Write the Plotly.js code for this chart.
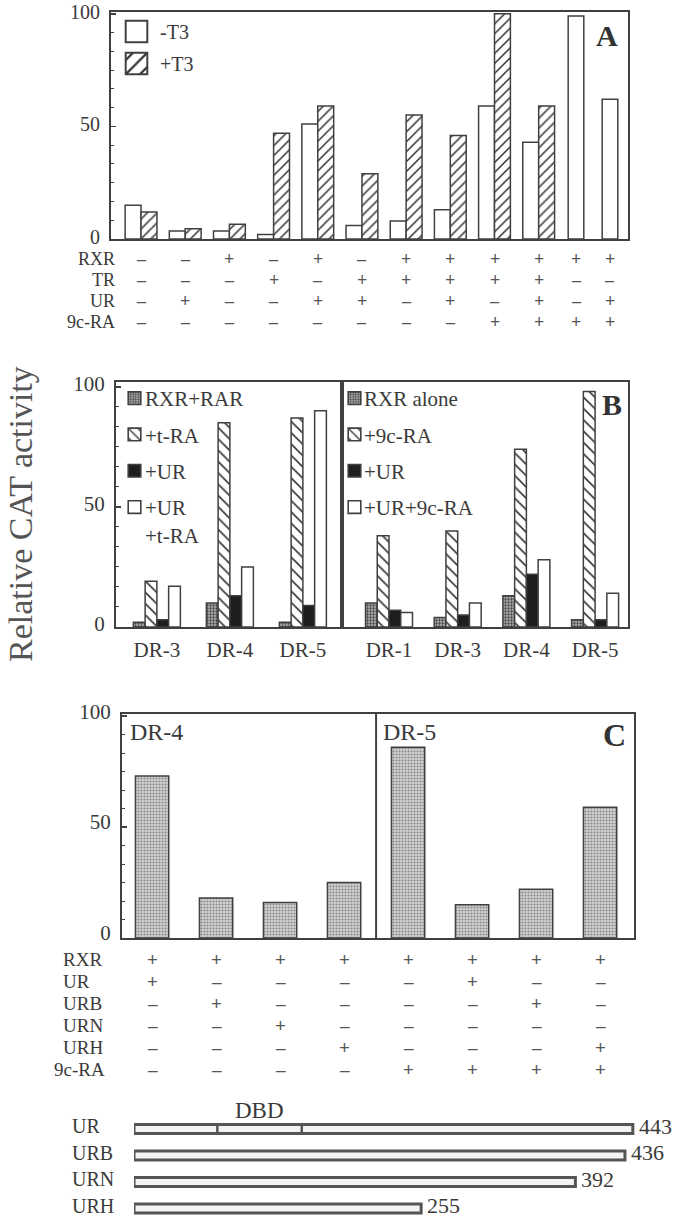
<!DOCTYPE html>
<html><head><meta charset="utf-8">
<script src="https://cdn.plot.ly/plotly-3.0.1.min.js"></script>
<style>html,body{margin:0;padding:0;background:#fff}#chart{width:679px;height:1218px}</style>
</head><body><div id="chart"></div>
<script>
// ---------- Panel A ----------
const lanesA = ['1','2','3','4','5','6','7','8','9','10','11','12'];
const minusT3 = [15, 3.5, 3.5, 2, 51, 6, 8, 13, 59, 43, 99, 62];
const plusT3  = [12, 4.5, 6.5, 47, 59, 29, 55, 46, 100, 59, null, null];
const rowLabelsA = ['RXR','TR','UR','9c-RA'];
const rxrA  = ['-','-','+','-','+','-','+','+','+','+','+','+'];
const trA   = ['-','-','-','+','-','+','+','+','+','+','-','-'];
const urA   = ['-','+','-','-','+','+','-','+','-','+','-','+'];
const ra9cA = ['-','-','-','-','-','-','-','-','+','+','+','+'];
// ---------- Panel B ----------
const drLeft = ['DR-3','DR-4','DR-5'];
const rxrRar = [2, 10, 2];
const plusTRA = [19, 85, 87];
const plusURLeft = [3, 13, 9];
const plusURtRA = [17, 25, 90];
const drRight = ['DR-1','DR-3','DR-4','DR-5'];
const rxrAlone = [10, 4, 13, 3];
const plus9cRA = [38, 40, 74, 98];
const plusURRight = [7, 5, 22, 3];
const plusUR9cRA = [6, 10, 28, 14];
// ---------- Panel C ----------
const lanesC = ['1','2','3','4','5','6','7','8'];
const valuesC = [73, 18, 16, 25, 86, 15, 22, 59];
const elementsC = ['DR-4','DR-5'];
const rowLabelsC = ['RXR','UR','URB','URN','URH','9c-RA'];
const rxrC  = ['+','+','+','+','+','+','+','+'];
const urC   = ['+','-','-','-','-','+','-','-'];
const urbC  = ['-','+','-','-','-','-','+','-'];
const urnC  = ['-','-','+','-','-','-','-','-'];
const urhC  = ['-','-','-','+','-','-','-','+'];
const ra9cC = ['-','-','-','-','+','+','+','+'];
// ---------- Constructs ----------
const constructs = ['UR','URB','URN','URH'];
const lengthsAA = [443, 436, 392, 255];
const dbdBounds = [74, 149];

// ---------- helpers / styles ----------
const W = 679, H = 1218;
const X = p => p / W, Y = p => 1 - p / H;
const INK = '#3a3a3a', LINE = '#404040';
const serif = 'Liberation Serif, Times New Roman, serif';
const outline = {color: LINE, width: 1.5};
const hatchFwd = {shape: '/', fgcolor: '#333', bgcolor: '#fff', size: 7, solidity: 0.22};
const hatchBack = {shape: '\\', fgcolor: '#333', bgcolor: '#fff', size: 8, solidity: 0.2};
const stippleDark = {shape: '.', fgcolor: '#444', bgcolor: '#b0b0b0', size: 3, solidity: 0.45};
const stippleLight = {shape: '.', fgcolor: '#888', bgcolor: '#d3d3d3', size: 3, solidity: 0.4};
const signChar = s => s === '+' ? '<b>+</b>' : '<b>\u2013</b>';

const traces = [];
// Panel A
const split = plusT3.findIndex(v => v == null);
const wA = 0.36;
traces.push({type: 'bar', name: '-T3', x: lanesA.slice(0, split), y: minusT3.slice(0, split),
  xaxis: 'x', yaxis: 'y', width: wA, offset: -wA, marker: {color: '#fff', line: outline},
  legend: 'legend', legendgroup: 'a1'});
traces.push({type: 'bar', name: '+T3', x: lanesA.slice(0, split), y: plusT3.slice(0, split),
  xaxis: 'x', yaxis: 'y', width: wA, offset: 0, marker: {color: '#fff', line: outline, pattern: hatchFwd},
  legend: 'legend', legendgroup: 'a2'});
traces.push({type: 'bar', name: '-T3', x: lanesA.slice(split), y: minusT3.slice(split),
  xaxis: 'x2', yaxis: 'y2', width: 0.46, offset: -0.23, marker: {color: '#fff', line: outline},
  showlegend: false});

// Panel B
const bSeries = (cats, vals, names, w, xa, ya, leg) => {
  const styles = [
    {color: '#b0b0b0', line: outline, pattern: stippleDark},
    {color: '#fff', line: outline, pattern: hatchBack},
    {color: '#1e1e1e', line: outline},
    {color: '#fff', line: outline}
  ];
  vals.forEach((v, k) => traces.push({type: 'bar', name: names[k], x: cats, y: v,
    xaxis: xa, yaxis: ya, width: w, offset: (k - 2) * w, marker: styles[k],
    legend: leg, legendgroup: leg + k}));
};
bSeries(drLeft, [rxrRar, plusTRA, plusURLeft, plusURtRA],
  ['RXR+RAR', '+t-RA', '+UR', '+UR<br>+t-RA'], 0.161, 'x3', 'y3', 'legend2');
bSeries(drRight, [rxrAlone, plus9cRA, plusURRight, plusUR9cRA],
  ['RXR alone', '+9c-RA', '+UR', '+UR+9c-RA'], 0.171, 'x4', 'y4', 'legend3');

// Panel C
traces.push({type: 'bar', x: lanesC, y: valuesC, xaxis: 'x5', yaxis: 'y5', width: 0.52, offset: -0.26,
  marker: {color: '#d3d3d3', line: outline, pattern: stippleLight}, showlegend: false});

// Constructs
traces.push({type: 'bar', orientation: 'h', y: constructs, x: lengthsAA, xaxis: 'x6', yaxis: 'y6',
  width: 0.34, offset: -0.17, marker: {color: '#f3f3f3', line: {color: '#555', width: 3}},
  cliponaxis: false, showlegend: false});

// ---------- axes ----------
const frameAx = {showline: true, linecolor: LINE, linewidth: 2, mirror: true, showgrid: false,
  zeroline: false, ticks: '', showticklabels: false, fixedrange: true};
const valueAx = (dom, top, shift, fs) => Object.assign({}, frameAx, {domain: dom, range: [0, top],
  showticklabels: true, tickvals: [0, 50, 100], ticks: 'inside', ticklen: 5, tickcolor: LINE, tickwidth: 1.5,
  ticklabelstandoff: 5, ticklabelshift: shift, ticklabeloverflow: 'allow',
  tickfont: {family: serif, size: fs, color: INK},
  minor: {dtick: 100 / 12, tick0: 0, ticks: 'inside', ticklen: 3, tickcolor: LINE, tickwidth: 1}});

const layout = {
  width: W, height: H, margin: {l: 0, r: 0, t: 0, b: 0},
  paper_bgcolor: '#fff', plot_bgcolor: 'rgba(0,0,0,0)',
  font: {family: serif, color: INK},
  barmode: 'overlay', showlegend: true,
  xaxis: Object.assign({}, frameAx, {type: 'category', domain: [X(111), X(559)], range: [-0.68, 9.46], anchor: 'y'}),
  yaxis: Object.assign(valueAx([Y(239), Y(11.5)], 101, -2, 20), {mirror: false, anchor: 'x'}),
  xaxis2: Object.assign({}, frameAx, {type: 'category', domain: [X(559), X(628)], range: [-0.5, 1.53], anchor: 'y2'}),
  yaxis2: Object.assign({}, frameAx, {domain: [Y(239), Y(11.5)], range: [0, 101], anchor: 'x2', side: 'right', mirror: false}),
  xaxis3: Object.assign({}, frameAx, {type: 'category', domain: [X(116), X(342)], range: [-0.56, 2.536], anchor: 'y3',
    showticklabels: true, ticklabelstandoff: 3, tickfont: {family: serif, size: 21, color: INK}}),
  yaxis3: Object.assign(valueAx([Y(627), Y(382)], 102, -3, 21), {anchor: 'x3'}),
  xaxis4: Object.assign({}, frameAx, {type: 'category', domain: [X(342), X(628)], range: [-0.684, 3.479], anchor: 'y4',
    showticklabels: true, ticklabelstandoff: 3, tickfont: {family: serif, size: 21, color: INK}}),
  yaxis4: Object.assign({}, frameAx, {domain: [Y(627), Y(382)], range: [0, 102], anchor: 'x4'}),
  xaxis5: Object.assign({}, frameAx, {type: 'category', domain: [X(122), X(634)], range: [-0.47, 7.53], anchor: 'y5'}),
  yaxis5: Object.assign(valueAx([Y(938), Y(714)], 101, -5, 21), {anchor: 'x5'}),
  xaxis6: {domain: [X(134), X(679)], range: [0, 484], visible: false, fixedrange: true, anchor: 'y6'},
  yaxis6: {domain: [Y(1218), Y(1110)], type: 'category', categoryarray: constructs, range: [3.358, -0.717],
    visible: false, fixedrange: true, anchor: 'x6'},
  legend: {x: X(120), y: Y(12), xanchor: 'left', yanchor: 'top', bgcolor: 'rgba(0,0,0,0)',
    font: {family: serif, size: 20, color: INK}, traceorder: 'grouped', tracegroupgap: 3},
  legend2: {x: X(105), y: Y(378), xanchor: 'left', yanchor: 'top', bgcolor: 'rgba(0,0,0,0)', valign: 'top',
    font: {family: serif, size: 21, color: INK}, traceorder: 'grouped', tracegroupgap: 6},
  legend3: {x: X(324), y: Y(378), xanchor: 'left', yanchor: 'top', bgcolor: 'rgba(0,0,0,0)', valign: 'top',
    font: {family: serif, size: 21, color: INK}, traceorder: 'grouped', tracegroupgap: 6},
  shapes: [
    {type: 'line', xref: 'x5', yref: 'y5 domain', x0: 3.5, x1: 3.5, y0: 0, y1: 1, line: {color: LINE, width: 2}}
  ].concat(dbdBounds.map(b => ({type: 'line', xref: 'x6', yref: 'y6', x0: b, x1: b, y0: -0.17, y1: 0.17,
    line: {color: '#555', width: 2.5}}))),
  annotations: []
};

const ann = layout.annotations;
const txt = (o) => ann.push(Object.assign({showarrow: false, xanchor: 'center', yanchor: 'middle',
  font: {family: serif, size: 21, color: INK}}, o));

// Panel letters
txt({text: '<b>A</b>', xref: 'paper', yref: 'paper', x: X(607), y: Y(35), font: {family: serif, size: 30, color: '#333'}});
txt({text: '<b>B</b>', xref: 'paper', yref: 'paper', x: X(612), y: Y(404), font: {family: serif, size: 30, color: '#333'}});
txt({text: '<b>C</b>', xref: 'paper', yref: 'paper', x: X(614), y: Y(735), font: {family: serif, size: 32, color: '#333'}});

// Y title
txt({text: 'Relative CAT activity', xref: 'paper', yref: 'paper', x: X(20), y: Y(514), textangle: -90,
  font: {family: serif, size: 34, color: '#555'}});

// Table A
const tableA = [rxrA, trA, urA, ra9cA];
const rowYA = [259, 280, 301, 322];
tableA.forEach((row, r) => {
  txt({text: rowLabelsA[r], xref: 'paper', yref: 'paper', x: X(117), y: Y(rowYA[r]), xanchor: 'right',
    font: {family: serif, size: 18, color: INK}});
  row.forEach((s, i) => txt({text: signChar(s), xref: i < split ? 'x' : 'x2', x: i < split ? i : i - split,
    yref: 'paper', y: Y(rowYA[r]), font: {family: serif, size: 18, color: '#555'}}));
});

// Table C
const tableC = [rxrC, urC, urbC, urnC, urhC, ra9cC];
const rowYC = [959, 981, 1003, 1025, 1047, 1069];
tableC.forEach((row, r) => {
  txt({text: rowLabelsC[r], xref: 'paper', yref: 'paper', x: X(rowLabelsC[r] === '9c-RA' ? 52 : 61), y: Y(rowYC[r]),
    xanchor: 'left', font: {family: serif, size: 19, color: INK}});
  row.forEach((s, i) => txt({text: signChar(s), xref: 'x5', x: i, yref: 'paper', y: Y(rowYC[r]),
    font: {family: serif, size: 19, color: '#555'}}));
});

// Element labels in C
txt({text: elementsC[0], xref: 'paper', yref: 'paper', x: X(128), y: Y(732), xanchor: 'left', font: {family: serif, size: 24, color: INK}});
txt({text: elementsC[1], xref: 'paper', yref: 'paper', x: X(381), y: Y(732), xanchor: 'left', font: {family: serif, size: 24, color: INK}});

// Construct labels, lengths, DBD
constructs.forEach((c, i) => {
  txt({text: c, xref: 'paper', x: X(70), yref: 'y6', y: i, xanchor: 'left', yshift: 3,
    font: {family: serif, size: 20, color: INK}});
  txt({text: String(lengthsAA[i]), xref: 'x6', x: lengthsAA[i], yref: 'y6', y: i, xanchor: 'left', xshift: 4,
    yshift: 3, font: {family: serif, size: 22, color: INK}});
});
txt({text: 'DBD', xref: 'x6', x: (dbdBounds[0] + dbdBounds[1]) / 2, yref: 'y6', y: 0, yshift: 19,
  font: {family: serif, size: 23, color: INK}});

Plotly.newPlot('chart', traces, layout, {displayModeBar: false, staticPlot: true}).then(() => {
  const restyleSymbols = (cls, s, dx, sw) => {
    document.querySelectorAll('g.' + cls + ' .legendpoints path').forEach(p => {
      const t0 = p.getAttribute('transform') || '';
      p.setAttribute('transform', t0 + ' translate(' + dx + ',0) scale(' + s + ')');
      p.style.strokeWidth = sw + 'px';
    });
  };
  restyleSymbols('legend', 1.8, -3.5, 1.1);
  restyleSymbols('legend2', 1.05, 9.5, 1.5);
  restyleSymbols('legend3', 1.05, 10.5, 1.5);
});
</script>
</body></html>
